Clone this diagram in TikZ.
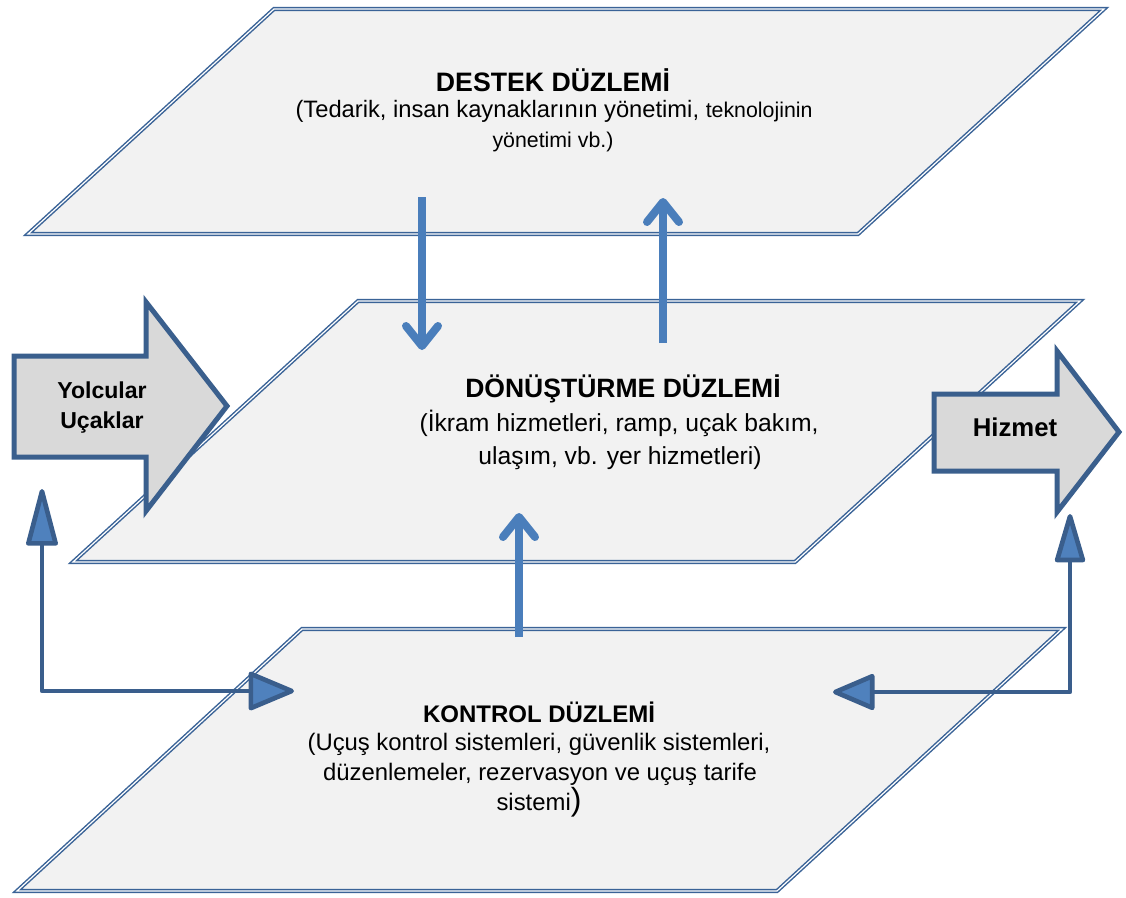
\documentclass[tikz,border=0pt]{standalone}
\usepackage{fontspec}
\setmainfont{Liberation Sans}
\usetikzlibrary{arrows.meta}
\definecolor{planeline}{HTML}{3A6397}
\definecolor{planefill}{HTML}{F2F2F2}
\definecolor{bigfill}{HTML}{D9D9D9}
\definecolor{bigline}{HTML}{3A5F8D}
\definecolor{flow}{HTML}{4A7EBB}
\definecolor{link}{HTML}{3A5E8C}
\definecolor{linkfill}{HTML}{4F81BD}
\begin{document}
\begin{tikzpicture}[x=0.75pt,y=-0.75pt,
  plane/.style={fill=planefill, draw=planeline, line width=1.1pt, double=white, double distance=0.9pt, line join=miter},
  bigarrow/.style={fill=bigfill, draw=bigline, line width=3.75pt, line join=miter},
  flowarrow/.style={draw=flow, line width=6pt, -{Straight Barb[length=15pt,width=24pt,round]}},
  linkline/.style={draw=link, line width=3.5pt, line join=round},
  ttl/.style={anchor=base, inner sep=0pt, font=\bfseries\fontsize{#1}{#1}\selectfont},
  txt/.style={anchor=base, inner sep=0pt, font=\fontsize{#1}{#1}\selectfont}
]
\useasboundingbox (0,0) rectangle (1126,897);

% the three planes
\path[plane] (274,9) -- (1104,9) -- (858,234) -- (28,234) -- cycle;
\path[plane] (358,301) -- (1080,301) -- (795,562) -- (73,562) -- cycle;
\path[plane] (302,629) -- (1062,629) -- (777,891) -- (17,891) -- cycle;

% input and output block arrows
\path[bigarrow] (14,356) -- (146,356) -- (146,302) -- (227,406) -- (146,511) -- (146,457) -- (14,457) -- cycle;
\path[bigarrow] (934,394) -- (1057,394) -- (1057,351) -- (1119,432) -- (1057,512) -- (1057,471) -- (934,471) -- cycle;

% flows between planes
\coordinate (downS) at (422,197);
\coordinate (downE) at (422,350);
\coordinate (upS) at (663,343);
\coordinate (upE) at (663,198);
\coordinate (ctlS) at (519,637);
\coordinate (ctlE) at (519,513);
\draw[flowarrow] (downS) -- (downE);
\draw[flowarrow] (upS) -- (upE);
\draw[flowarrow] (ctlS) -- (ctlE);

% control feedback links
\coordinate (lTop) at (42,489);
\coordinate (lEnd) at (294,691);
\coordinate (rTop) at (1070,514);
\coordinate (rEnd) at (833,692);
\draw[linkline, {Triangle[length=48pt,width=24pt,fill=linkfill,round]}-{Triangle[length=37pt,width=30pt,fill=linkfill,round]}] (lTop) |- (lEnd);
\draw[linkline, {Triangle[length=41pt,width=23pt,fill=linkfill,round]}-{Triangle[length=34pt,width=28pt,fill=linkfill,round]}] (rTop) |- (rEnd);

% texts
\node[ttl=20] (dT) at (553,91) {DESTEK DÜZLEMİ};
\node[txt=17.8] (d1) at (554,117) {(Tedarik, insan kaynaklarının yönetimi, {\fontsize{16}{16}\selectfont teknolojinin}};
\node[txt=16] (d2) at (553,147) {yönetimi vb.)};

\node[ttl=19.9] (mT) at (623,397) {DÖNÜŞTÜRME DÜZLEMİ};
\node[txt=18.5] (m1) at (619,431) {(İkram hizmetleri, ramp, uçak bakım,};
\node[txt=18.5] (m2) at (620,464) {ulaşım, vb. yer hizmetleri)};

\node[ttl=18] (kT) at (539,722) {KONTROL DÜZLEMİ};
\node[txt=17.9] (k1) at (539,750) {(Uçuş kontrol sistemleri, güvenlik sistemleri,};
\node[txt=17.9] (k2) at (540,780) {düzenlemeler, rezervasyon ve uçuş tarife};
\node[txt=17.9] (k3) at (539,810) {sistemi{\fontsize{24}{24}\selectfont)}};

\node[ttl=17.3] (inA) at (102,398) {Yolcular};
\node[ttl=17.3] (inB) at (102,428) {Uçaklar};
\node[ttl=19.3] (out) at (1015,436) {Hizmet};
\end{tikzpicture}
\end{document}
